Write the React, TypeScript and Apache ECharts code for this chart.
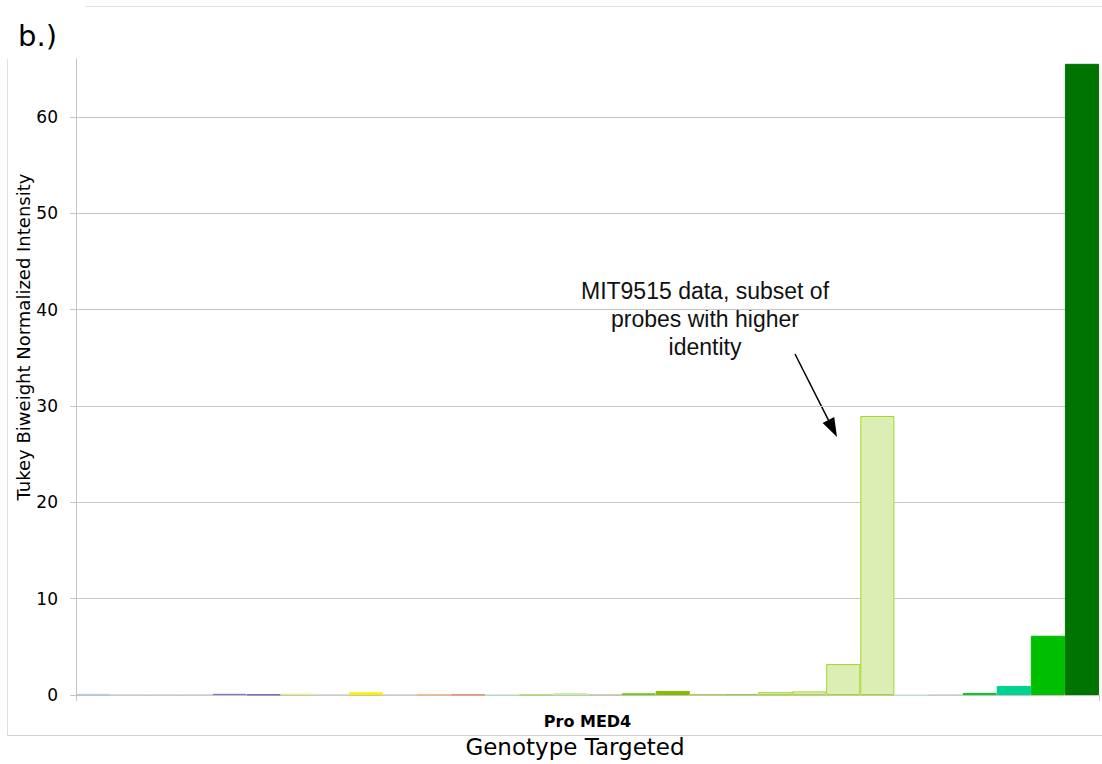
import React, { useEffect, useRef } from "react";
import * as echarts from "echarts";

const category = ["Pro MED4"];
const seriesValues = [
  0.12, 0, 0, 0, 0.12, 0.05, 0.15, 0, 0.28, 0,
  0.05, 0.05, 0.08, 0.03, 0.2, 0.03, 0.17, 0.42, 0.1, 0.1,
  0.3, 0.37, 3.22, 28.95, 0.05, 0, 0.2, 0.94, 6.15, 65.5,
];
const seriesColors = [
  "#a6d2f5", "#cccccc", "#cccccc", "#cccccc", "#7a7ad8", "#6a6ab8", "#ffff99", "#cccccc", "#ffee00", "#cccccc",
  "#f0b888", "#e49070", "#cdf0dc", "#a8d878", "#c8eea4", "#c4c8b0", "#66cc00", "#88bb00", "#b4d870", "#a6d448",
  "#ddeeb5", "#ddeeb5", "#ddeeb5", "#ddeeb5", "#d2f2de", "#cccccc", "#00cc22", "#00d294", "#00bf00", "#007400",
];
const seriesBorders = [
  "#a6d2f5", "#cccccc", "#cccccc", "#cccccc", "#7a7ad8", "#6a6ab8", "#eeee88", "#cccccc", "#ffee00", "#cccccc",
  "#f0b888", "#e49070", "#cdf0dc", "#a8d878", "#c8eea4", "#c4c8b0", "#66cc00", "#88bb00", "#a8d040", "#99cc33",
  "#a3d82a", "#a3d82a", "#a3d82a", "#a3d82a", "#d2f2de", "#cccccc", "#00cc22", "#00d294", "#00bf00", "#007400",
];
const yTicks = [0, 10, 20, 30, 40, 50, 60];
const annotationLines = ["MIT9515 data, subset of", "probes with higher", "identity"];

export default function App() {
  const ref = useRef<HTMLDivElement>(null);
  useEffect(() => {
    document.body.style.margin = "0";
    const chart = echarts.init(ref.current!, null, { renderer: "svg" });
    const series = seriesValues.map((v, i) => ({
      type: "bar",
      name: "s" + i,
      data: [v],
      barGap: "0%",
      barCategoryGap: "0%",
      itemStyle: { color: seriesColors[i], borderColor: seriesBorders[i], borderWidth: 1 },
    }));
    const dx = 42, dy = 83;
    const len = Math.sqrt(dx * dx + dy * dy);
    const ux = dx / len, uy = dy / len;
    const tip = [837, 437];
    const hl = 19, hw = 6.5;
    const bx = tip[0] - ux * hl, by = tip[1] - uy * hl;
    chart.setOption({
      animation: false,
      backgroundColor: "#ffffff",
      grid: { left: 76, right: 3, top: 59, bottom: 69, containLabel: false },
      xAxis: {
        type: "category",
        data: category,
        axisLine: { show: true, lineStyle: { color: "#c4c4c4", width: 1 } },
        axisTick: { show: true, length: 6, lineStyle: { color: "#c4c4c4" } },
        axisLabel: {
          fontFamily: "DejaVu Sans",
          fontWeight: "bold",
          fontSize: 16,
          color: "#000000",
          margin: 18,
        },
      },
      yAxis: {
        type: "value",
        min: 0,
        max: 66,
        interval: 10,
        axisLine: { show: true, lineStyle: { color: "#c4c4c4" } },
        axisTick: { show: true, length: 6, lineStyle: { color: "#c4c4c4" }, customValues: yTicks },
        axisLabel: {
          fontFamily: "DejaVu Sans",
          fontSize: 17,
          color: "#000000",
          margin: 18,
          formatter: (v: number) => (yTicks.indexOf(v) >= 0 ? String(v) : ""),
        },
        splitLine: { show: true, lineStyle: { color: "#c8c8c8" } },
      },
      series,
      graphic: [
        { type: "line", shape: { x1: 86, y1: 6.5, x2: 1102, y2: 6.5 }, style: { stroke: "#e0e0e0", lineWidth: 1 } },
        { type: "line", shape: { x1: 7.5, y1: 59, x2: 7.5, y2: 735 }, style: { stroke: "#e0e0e0", lineWidth: 1 } },
        { type: "line", shape: { x1: 7, y1: 735.5, x2: 1102, y2: 735.5 }, style: { stroke: "#d0d0d0", lineWidth: 1 } },
        {
          type: "text",
          x: 18,
          y: 36,
          style: { text: "b.)", font: "29px 'DejaVu Sans'", fill: "#000", textVerticalAlign: "middle" },
        },
        {
          type: "text",
          x: 23,
          y: 337,
          rotation: Math.PI / 2,
          style: {
            text: "Tukey Biweight Normalized Intensity",
            font: "18px 'DejaVu Sans'",
            fill: "#000",
            textAlign: "center",
            textVerticalAlign: "middle",
          },
        },
        {
          type: "text",
          x: 575,
          y: 747,
          style: {
            text: "Genotype Targeted",
            font: "23px 'DejaVu Sans'",
            fill: "#000",
            textAlign: "center",
            textVerticalAlign: "middle",
          },
        },
        ...annotationLines.map((t, i) => ({
          type: "text",
          x: 705,
          y: 291 + i * 28,
          style: {
            text: t,
            font: "23px 'Liberation Sans'",
            fill: "#111",
            textAlign: "center",
            textVerticalAlign: "middle",
          },
        })),
        {
          type: "line",
          shape: { x1: 795, y1: 354, x2: bx, y2: by },
          style: { stroke: "#000", lineWidth: 1.5 },
        },
        {
          type: "polygon",
          shape: {
            points: [
              [tip[0], tip[1]],
              [bx - uy * hw, by + ux * hw],
              [bx + uy * hw, by - ux * hw],
            ],
          },
          style: { fill: "#000" },
        },
      ],
    });
    return () => chart.dispose();
  }, []);
  return <div ref={ref} style={{ width: 1102, height: 764 }} />;
}
